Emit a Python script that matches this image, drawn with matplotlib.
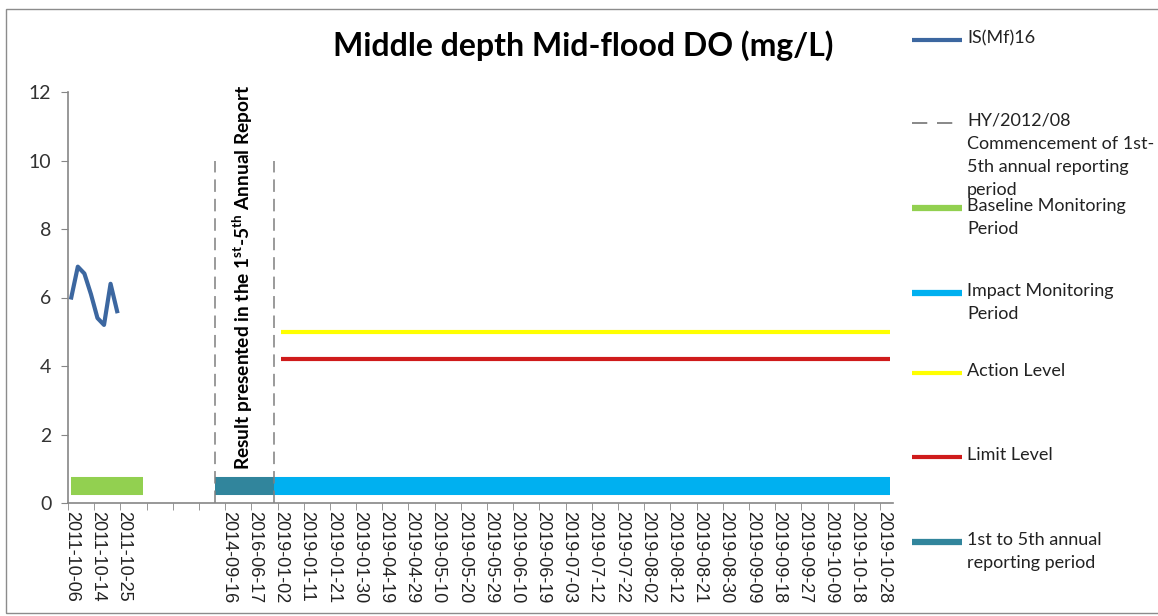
import numpy as np
import matplotlib
matplotlib.use("Agg")
import matplotlib.pyplot as plt
from matplotlib.lines import Line2D
from matplotlib.patches import Rectangle

plt.rcParams['font.family'] = ['Lato', 'DejaVu Sans']
plt.rcParams['mathtext.fontset'] = 'custom'
plt.rcParams['mathtext.rm'] = 'Lato:bold'
plt.rcParams['lines.scale_dashes'] = False

# Data
n_categories = 126          # category slots on the x axis
label_every = 4             # one tick label every 4 categories
tick_labels = ['2011-10-06', '2011-10-14', '2011-10-25', '', '', '',
               '2014-09-16', '2016-06-17', '2019-01-02', '2019-01-11',
               '2019-01-21', '2019-01-30', '2019-04-19', '2019-04-29',
               '2019-05-10', '2019-05-20', '2019-05-29', '2019-06-10',
               '2019-06-19', '2019-07-03', '2019-07-12', '2019-07-22',
               '2019-08-02', '2019-08-12', '2019-08-21', '2019-08-30',
               '2019-09-09', '2019-09-18', '2019-09-27', '2019-10-09',
               '2019-10-18', '2019-10-28']
do_values = [6.0, 6.9, 6.7, 6.1, 5.4, 5.2, 6.4, 5.6]   # IS(Mf)16
baseline_cats = (0, 11)
reporting_cats = (22, 31)
impact_cats = (31, 125)
level_cats = (32, 125)
action_level = 5.0
limit_level = 4.2
period_bar_y = 0.5
marker_cats = [22, 31]
marker_top = 10

# colours
c_do = '#3C67A0'
c_base = '#92D050'
c_impact = '#00B0F0'
c_report = '#31859C'
c_action = '#FFFF00'
c_limit = '#CF1B1B'
c_dash = '#7F7F7F'

W, H = 1158, 616
fig = plt.figure(figsize=(W / 100, H / 100), dpi=100)
ax = fig.add_axes([68 / W, (H - 503) / H, (893 - 68) / W, (503 - 92) / H])

cat_x = np.arange(n_categories) + 0.5

# period bars
def span(cats):
    return [cat_x[cats[0]], cat_x[cats[1]]]

ax.plot(span(baseline_cats), [period_bar_y] * 2, color=c_base, lw=13, solid_capstyle='butt')
ax.plot(span(reporting_cats), [period_bar_y] * 2, color=c_report, lw=13, solid_capstyle='butt')
ax.plot(span(impact_cats), [period_bar_y] * 2, color=c_impact, lw=13, solid_capstyle='butt')

# levels
ax.plot(span(level_cats), [action_level] * 2, color=c_action, lw=3, solid_capstyle='butt')
ax.plot(span(level_cats), [limit_level] * 2, color=c_limit, lw=3, solid_capstyle='butt')

# dashed markers
for c in marker_cats:
    ax.plot([cat_x[c]] * 2, [0, marker_top], color=c_dash, lw=1.1, linestyle=(0, (9, 5)))

# DO series
ax.plot(cat_x[:len(do_values)], do_values, color=c_do, lw=3, solid_joinstyle='round')

ax.set_xlim(0, n_categories)
ax.set_ylim(0, 12)
ax.set_yticks(np.arange(0, 13, 2))
ax.tick_params(axis='y', direction='out', length=5, color='#868686', labelsize=14,
               labelcolor='#333333', pad=7)

ax.set_xticks(np.arange(0, n_categories - 1, label_every), minor=True)
ax.set_xticks(cat_x[::label_every][:len(tick_labels)])
ax.set_xticklabels(tick_labels, rotation=-90, fontfamily='Liberation Sans',
                   fontsize=13, color='#222222')
ax.tick_params(axis='x', which='major', length=0, pad=6)
ax.tick_params(axis='x', which='minor', direction='out', length=5, color='#868686')

for s in ['top', 'right']:
    ax.spines[s].set_visible(False)
for s in ['left', 'bottom']:
    ax.spines[s].set_color('#868686')
    ax.spines[s].set_linewidth(1.2)

ax.text(26.7, 6.6, r'Result presented in the 1$^{\mathrm{st}}$-5$^{\mathrm{th}}$ Annual Report',
        rotation=90, ha='center', va='center', fontsize=13.8, fontweight='bold')

fig.text(583 / W, 1 - 46 / H, 'Middle depth Mid-flood DO (mg/L)', ha='center', va='center',
         fontsize=23, fontweight='bold')

# legend drawn by hand on the right
legend_items = [
    (40, 'IS(Mf)16', dict(color=c_do, lw=3)),
    (123, 'HY/2012/08\nCommencement of 1st-\n5th annual reporting\nperiod',
     dict(color=c_dash, lw=1.3, linestyle=(0, (11, 7)))),
    (208, 'Baseline Monitoring\nPeriod', dict(color=c_base, lw=4.5)),
    (293, 'Impact Monitoring\nPeriod', dict(color=c_impact, lw=4.5)),
    (373, 'Action Level', dict(color=c_action, lw=3)),
    (457, 'Limit Level', dict(color=c_limit, lw=3)),
    (542, '1st to 5th annual\nreporting period', dict(color=c_report, lw=4.5)),
]
for y, label, style in legend_items:
    fy = 1 - y / H
    fig.add_artist(Line2D([912 / W, 962 / W], [fy, fy], transform=fig.transFigure,
                          solid_capstyle='butt', **style))
    fig.text(967 / W, 1 - (y - 10) / H, label, ha='left', va='top', fontsize=13,
             color='#222222', linespacing=1.55)

fig.add_artist(Rectangle((6 / W, 1 - 613 / H), 1.2, (613 - 9) / H, transform=fig.transFigure,
                         fill=False, ec='#8C8C8C', lw=1))

fig.savefig('out.png', dpi=100, facecolor='white')
